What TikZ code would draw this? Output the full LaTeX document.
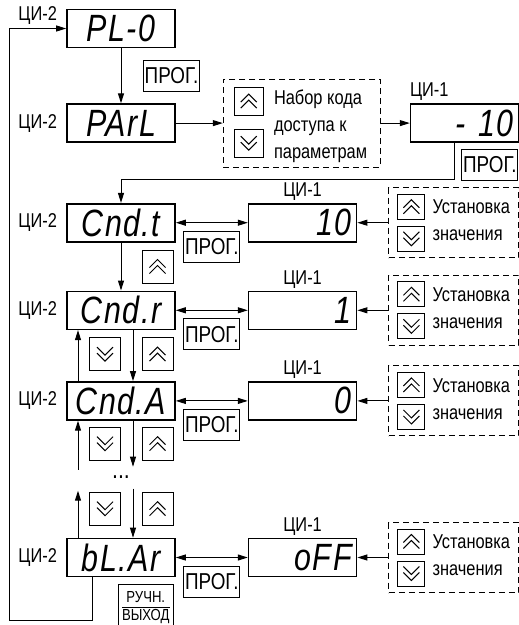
\documentclass[tikz,border=0pt]{standalone}
\usepackage{fontspec}
\setmainfont{Liberation Sans}[FakeStretch=0.82]
\newfontfamily\segfont{Liberation Sans}[FakeStretch=0.8,LetterSpace=4]
\usepackage{tikz}
\usetikzlibrary{arrows.meta, positioning, calc}

\begin{document}
\begin{tikzpicture}[
    x=1pt, y=1pt,
    disp/.style={rectangle, draw, line width=1.6pt, minimum width=108pt, minimum height=38pt, text width=98pt, inner xsep=5pt, inner ysep=0pt, align=center, font=\segfont\itshape\fontsize{38}{38}\selectfont},
    val/.style={disp, align=right},
    lbl/.style={inner sep=0pt, font=\fontsize{20}{20}\selectfont},
    note/.style={inner sep=0pt, align=left, font=\fontsize{20}{27}\selectfont},
    prog/.style={rectangle, draw, line width=1pt, minimum width=56pt, minimum height=31pt, inner sep=0pt, font=\fontsize{23}{23}\selectfont},
    setbox/.style={rectangle, draw, line width=1pt, dash pattern=on 6pt off 4pt, minimum width=130pt, minimum height=70pt},
    key/.style={rectangle, draw, line width=1pt, minimum width=31pt, minimum height=33pt, inner sep=0pt},
    smallkey/.style={minimum width=27pt, minimum height=25pt},
    keyup/.style={key, path picture={
        \draw [line width=1pt] ([shift={(-8pt,-1pt)}]path picture bounding box.center) -- ++(8pt,8pt) -- ++(8pt,-8pt)
            ([shift={(-8pt,-7pt)}]path picture bounding box.center) -- ++(8pt,8pt) -- ++(8pt,-8pt);}},
    keydn/.style={key, path picture={
        \draw [line width=1pt] ([shift={(-8pt,7pt)}]path picture bounding box.center) -- ++(8pt,-8pt) -- ++(8pt,8pt)
            ([shift={(-8pt,1pt)}]path picture bounding box.center) -- ++(8pt,-8pt) -- ++(8pt,8pt);}},
    line/.style={draw, -{Triangle[length=10pt, width=6pt]}, line width=1pt},
    dline/.style={draw, {Triangle[length=10pt, width=6pt]}-{Triangle[length=10pt, width=6pt]}, line width=1pt}
]
    \useasboundingbox (0,0) rectangle (519,-625);

    % left column: ЦИ-2
    \node [disp] (pl0) at (121,-28.5) {PL-0};
    \node [disp, below=55pt of pl0] (parl) {PArL};
    \node [disp, below=60pt of parl] (cndt) {Cnd.t};
    \node [disp, below=48pt of cndt] (cndr) {Cnd.r};
    \node [disp, below=51pt of cndr] (cnda) {Cnd.A};
    \node [disp, below=117pt of cnda] (blar) {bL.Ar};

    \node [lbl, left=9pt of pl0, yshift=13pt] (lpl0) {ЦИ-2};
    \node [lbl, left=9pt of parl] (lparl) {ЦИ-2};
    \node [lbl, left=9pt of cndt] (lcndt) {ЦИ-2};
    \node [lbl, left=9pt of cndr] (lcndr) {ЦИ-2};
    \node [lbl, left=9pt of cnda] (lcnda) {ЦИ-2};
    \node [lbl, left=9pt of blar] (lblar) {ЦИ-2};

    \draw [line] (pl0) -- node[prog, right=22pt] (prog0) {ПРОГ.} (parl);

    % access code entry
    \node [setbox, minimum width=157pt, minimum height=88pt, right=47pt of parl] (keys) {};
    \node [keyup, minimum width=29pt, minimum height=28pt, right=11pt of keys.west, yshift=22pt] (keys-up) {};
    \node [keydn, minimum width=29pt, minimum height=28pt, right=11pt of keys.west, yshift=-20pt] (keys-dn) {};
    \node [note, right=51pt of keys.west, yshift=-3pt] (keys-txt) {Набор кода\\доступа к\\параметрам};
    \node [val, right=29pt of keys] (code) {- 10};
    \node [lbl, above right=3pt and 0pt of code.north west] (lcode) {ЦИ-1};
    \node [prog, below left=6pt and 1pt of code.south east] (progc) {ПРОГ.};

    \draw [line] (parl) -- (keys);
    \draw [line] (keys) -- (code);
    \draw [line] ([xshift=-10pt]code.south) |- ([yshift=23pt]cndt.north) -- (cndt.north);

    % Cnd.t
    \node [val, right=72pt of cndt] (valt) {10};
    \node [lbl, above=2pt of valt] (lvalt) {ЦИ-1};
    \node [setbox, right=31pt of valt] (sett) {};
    \node [keyup, smallkey, right=9pt of sett.west, yshift=16pt] (sett-up) {};
    \node [keydn, smallkey, right=9pt of sett.west, yshift=-16pt] (sett-dn) {};
    \node [note, right=44pt of sett.west, yshift=2pt] (sett-txt) {Установка\\значения};
    \draw [dline] (cndt) -- node[prog, below=8pt] (progt) {ПРОГ.} (valt);
    \draw [line] (sett) -- (valt);

    % Cnd.r
    \node [val, right=72pt of cndr] (valr) {1};
    \node [lbl, above=2pt of valr] (lvalr) {ЦИ-1};
    \node [setbox, right=31pt of valr] (setr) {};
    \node [keyup, smallkey, right=9pt of setr.west, yshift=16pt] (setr-up) {};
    \node [keydn, smallkey, right=9pt of setr.west, yshift=-16pt] (setr-dn) {};
    \node [note, right=44pt of setr.west, yshift=2pt] (setr-txt) {Установка\\значения};
    \draw [dline] (cndr) -- node[prog, below=8pt] (progr) {ПРОГ.} (valr);
    \draw [line] (setr) -- (valr);

    % Cnd.A
    \node [val, right=72pt of cnda] (vala) {0};
    \node [lbl, above=2pt of vala] (lvala) {ЦИ-1};
    \node [setbox, right=31pt of vala] (seta) {};
    \node [keyup, smallkey, right=9pt of seta.west, yshift=16pt] (seta-up) {};
    \node [keydn, smallkey, right=9pt of seta.west, yshift=-16pt] (seta-dn) {};
    \node [note, right=44pt of seta.west, yshift=2pt] (seta-txt) {Установка\\значения};
    \draw [dline] (cnda) -- node[prog, below=8pt] (proga) {ПРОГ.} (vala);
    \draw [line] (seta) -- (vala);

    % bL.Ar
    \node [val, right=72pt of blar] (valb) {oFF};
    \node [lbl, above=2pt of valb] (lvalb) {ЦИ-1};
    \node [setbox, right=31pt of valb] (setb) {};
    \node [keyup, smallkey, right=9pt of setb.west, yshift=16pt] (setb-up) {};
    \node [keydn, smallkey, right=9pt of setb.west, yshift=-16pt] (setb-dn) {};
    \node [note, right=44pt of setb.west, yshift=2pt] (setb-txt) {Установка\\значения};
    \draw [dline] (blar) -- node[prog, below=8pt] (progb) {ПРОГ.} (valb);
    \draw [line] (setb) -- (valb);

    % stepping through the list
    \node [keyup, below=7pt of cndt.south, xshift=36.5pt] (up1) {};
    \draw [line] (cndt) -- (cndr);

    \node [keydn, below=7pt of cndr.south, xshift=-16pt] (dn2) {};
    \node [keyup, below=7pt of cndr.south, xshift=36.5pt] (up2) {};
    \draw [line] ([xshift=12pt]cndr.south) -- ([xshift=12pt]cnda.north);
    \draw [line] ([xshift=-43pt]cnda.north) -- ([xshift=-43pt]cndr.south);

    \node [keydn, below=6pt of cnda.south, xshift=-16pt] (dn3) {};
    \node [keyup, below=6pt of cnda.south, xshift=36.5pt] (up3) {};
    \draw [line] ([xshift=12pt]cnda.south) -- ++(0,-46);
    \draw [line] ([xshift=-43pt]cnda.south) ++(0,-49) -- ([xshift=-43pt]cnda.south);

    \node [below=58pt of cnda.south, anchor=base, inner sep=0pt, font=\fontsize{26}{26}\selectfont] (dots) {...};

    \node [keydn, above=12pt of blar.north, xshift=-16pt] (dn4) {};
    \node [keyup, above=12pt of blar.north, xshift=36.5pt] (up4) {};
    \draw [line] ([xshift=12pt]blar.north) ++(0,49) -- ([xshift=12pt]blar.north);
    \draw [line] ([xshift=-43pt]blar.north) -- ++(0,47);

    % exit back to PL-0
    \node [rectangle, draw, line width=1pt, minimum width=55pt, minimum height=46pt, inner sep=0pt, font=\fontsize{16}{18}\selectfont, below left=7pt and 2pt of blar.south east] (exit) {\begin{tabular}{@{}c@{}}РУЧН.\\[-1pt]\hline ВЫХОД\end{tabular}};
    \draw [line] ([xshift=-29pt]blar.south) -- ++(0,-43) -| ([xshift=-57pt]pl0.west) -- (pl0.west);

\end{tikzpicture}
\end{document}
